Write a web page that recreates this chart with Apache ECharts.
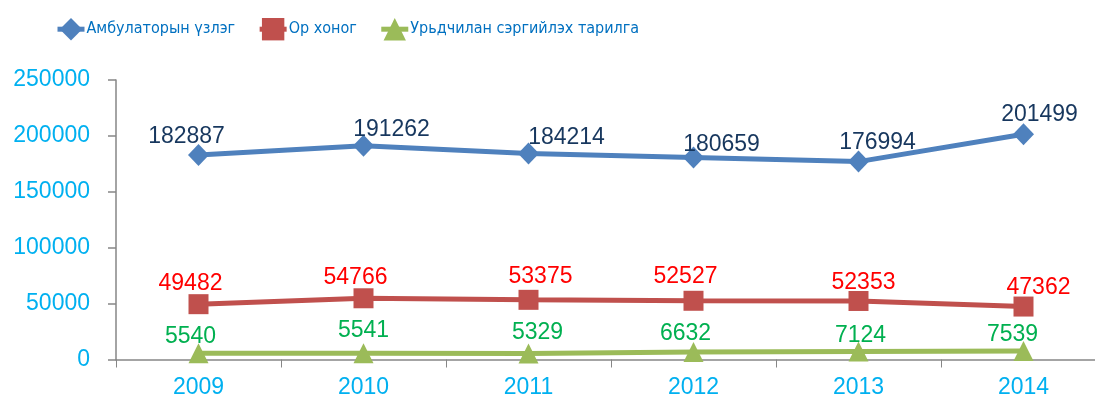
<!DOCTYPE html>
<html>
<head>
<meta charset="utf-8">
<script src="https://cdn.jsdelivr.net/npm/echarts@6/dist/echarts.min.js"></script>
<style>
  html, body { margin: 0; padding: 0; background: #fff; overflow: hidden; }
  /* plot area runs a little past the right edge, as in the original crop */
  #main { width: 1110px; height: 404px; }
</style>
</head>
<body>
<div id="main"></div>
<script>
var years = ["2009", "2010", "2011", "2012", "2013", "2014"];
var seriesNames = ["Амбулаторын үзлэг", "Ор хоног", "Урьдчилан сэргийлэх тарилга"];
var visits = [182887, 191262, 184214, 180659, 176994, 201499];
var bedDays = [49482, 54766, 53375, 52527, 52353, 47362];
var vaccines = [5540, 5541, 5329, 6632, 7124, 7539];
var yTicks = [0, 50000, 100000, 150000, 200000, 250000];

// label nudges (px) so the numbers sit like in the original
var visitsShift = [[-12, -18], [28, -16], [38, -16], [28, -13], [19, -19], [16, -20]];
var bedShift = [[-8, -21], [-8, -21], [12, -23], [-8, -24], [5, -18], [15, -19]];
var vacShift = [[-8, -17], [0, -23], [9, -21], [-8, -18], [2, -16], [-11, -16]];

var numFont = "'Liberation Sans', Arial, sans-serif";

function withLabels(values, shifts) {
    var out = [];
    for (let i = 0; i < values.length; i++) {
        out.push({ value: values[i], label: { offset: shifts[i] } });
    }
    return out;
}

function lineSeries(name, values, shifts, color, labelColor, symbol, size) {
    return {
        name: name,
        type: "line",
        data: withLabels(values, shifts),
        symbol: symbol,
        symbolSize: size,
        lineStyle: { color: color, width: 5 },
        itemStyle: { color: color },
        label: {
            show: true,
            position: "inside",
            color: labelColor,
            fontSize: 23,
            fontFamily: numFont
        },
        emphasis: { disabled: true },
        animation: false
    };
}

var myChart = echarts.init(document.getElementById("main"));
var option = {
    animation: false,
    legend: {
        left: 50,
        top: 13,
        itemWidth: 27,
        itemHeight: 28,
        itemGap: 22,
        data: seriesNames,
        lineStyle: { width: 5 },
        textStyle: {
            color: "#0070C0",
            fontSize: 16,
            fontFamily: "'DejaVu Sans Condensed', 'Liberation Sans', sans-serif",
            padding: [0, 0, 0, -3]
        }
    },
    grid: { left: 116, top: 80, bottom: 44.5, right: 4 },
    xAxis: {
        type: "category",
        data: years,
        boundaryGap: true,
        axisLine: { lineStyle: { color: "#868686", width: 1.5 } },
        axisTick: { show: true, length: 8, alignWithLabel: false },
        axisLabel: { color: "#00B0F0", fontSize: 23, fontFamily: numFont, margin: 17 },
        splitLine: { show: false }
    },
    yAxis: {
        type: "value",
        min: yTicks[0],
        max: yTicks[yTicks.length - 1],
        interval: yTicks[1] - yTicks[0],
        axisLine: { show: true, lineStyle: { color: "#868686", width: 1.5 } },
        axisTick: { show: true, length: 8, lineStyle: { color: "#868686", width: 1.5 } },
        axisLabel: {
            color: "#00B0F0", fontSize: 23, fontFamily: numFont, margin: 26,
            formatter: function (v) { return String(v); }
        },
        splitLine: { show: false }
    },
    series: [
        lineSeries(seriesNames[0], visits, visitsShift, "#4F81BD", "#17375E", "diamond", [21, 22]),
        lineSeries(seriesNames[1], bedDays, bedShift, "#C0504D", "#FF0000", "rect", 20),
        lineSeries(seriesNames[2], vaccines, vacShift, "#9BBB59", "#00B050", "triangle", 20)
    ]
};
myChart.setOption(option);
</script>
</body>
</html>
